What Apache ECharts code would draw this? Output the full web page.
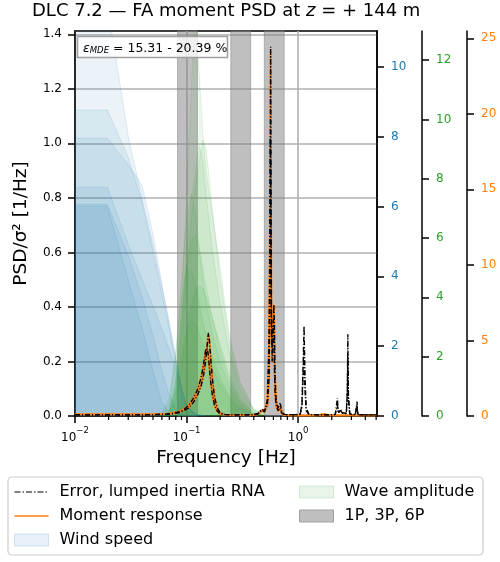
<!DOCTYPE html>
<html>
<head>
<meta charset="utf-8">
<script src="https://cdn.jsdelivr.net/npm/echarts@6/dist/echarts.min.js"></script>
<style>
  html, body { margin: 0; padding: 0; background: #fff; }
  #chart { width: 500px; height: 562px; }
</style>
</head>
<body>
<div id="chart"></div>
<script>
// frequency axis ticks
const X_TICKS = [0.01, 0.1, 1];
const X_MINOR = [0.02, 0.03, 0.04, 0.05, 0.06, 0.07, 0.08, 0.09,
                 0.2, 0.3, 0.4, 0.5, 0.6, 0.7, 0.8, 0.9, 2, 3, 4, 5];
const Y_TICKS = [0, 0.2, 0.4, 0.6, 0.8, 1.0, 1.2, 1.4];
const WIND_TICKS = [0, 2, 4, 6, 8, 10];
const WAVE_TICKS = [0, 2, 4, 6, 8, 10, 12];
const MOM_TICKS = [0, 5, 10, 15, 20, 25];

// 1P, 3P, 6P bands [Hz]
const BANDS = [[0.083, 0.125], [0.249, 0.375], [0.497, 0.75]];

// wind speed spectra (blue axis)
const WIND_F = [0.01, 0.0195, 0.03, 0.04, 0.05, 0.06, 0.07, 0.08, 0.09, 0.1, 0.12, 0.15];
const WIND_1 = [12.0, 11.8, 8.0, 6.2, 4.9, 3.7, 2.7, 1.7, 0.8, 0.3, 0.05, 0];
const WIND_2 = [8.76, 8.76, 7.4, 6.1, 4.7, 3.5, 2.5, 1.5, 0.8, 0.3, 0.05, 0];
const WIND_3 = [7.95, 7.95, 7.2, 6.6, 5.2, 3.8, 2.6, 1.6, 0.8, 0.3, 0.05, 0];
const WIND_4 = [6.55, 6.55, 4.9, 3.9, 3.15, 2.5, 1.9, 1.35, 0.6, 0.25, 0.03, 0];
const WIND_5 = [6.06, 6.06, 4.6, 3.4, 2.3, 1.3, 0.6, 0.2, 0.05, 0, 0, 0];
const WIND_6 = [6.0, 6.0, 3.9, 2.5, 1.3, 0.4, 0.1, 0, 0, 0, 0, 0];
const WIND = [WIND_1, WIND_2, WIND_3, WIND_4, WIND_5, WIND_6];

// wave amplitude spectra (green axis)
const WAVE_F = [0.06, 0.07, 0.08, 0.09, 0.10, 0.11, 0.12, 0.13, 0.14, 0.15, 0.17, 0.20, 0.24, 0.30, 0.40, 0.50];
const WAVE_1 = [0, 0.1, 1.0, 3.8, 7.5, 11.0, 14.0, 11.5, 9.5, 8.2, 6.8, 5.0, 2.8, 1.2, 0.2, 0.05];
const WAVE_2 = [0, 0.05, 0.6, 2.5, 4.8, 6.6, 7.8, 8.6, 9.3, 9.0, 7.0, 4.6, 2.6, 1.1, 0.25, 0.05];
const WAVE_3 = [0, 0.1, 0.9, 3.0, 5.5, 7.2, 8.3, 9.1, 8.6, 7.4, 5.6, 3.8, 2.2, 0.9, 0.2, 0.04];
const WAVE_4 = [0.05, 0.4, 2.0, 4.6, 6.6, 7.5, 6.8, 5.6, 4.6, 3.8, 2.8, 1.8, 1.0, 0.4, 0.08, 0.02];
const WAVE_5 = [0, 0.2, 1.2, 3.2, 5.0, 5.9, 6.1, 5.7, 5.0, 4.3, 3.3, 2.2, 1.2, 0.5, 0.1, 0.02];
const WAVE_6 = [0.1, 0.6, 2.2, 4.0, 5.0, 4.9, 4.4, 3.8, 3.2, 2.7, 2.0, 1.3, 0.7, 0.3, 0.06, 0.01];
const WAVE_7 = [0, 0.05, 0.5, 1.6, 2.8, 3.7, 4.2, 4.4, 4.3, 4.0, 3.3, 2.4, 1.4, 0.6, 0.12, 0.03];
const WAVE_8 = [0, 0.1, 0.8, 2.0, 2.9, 3.2, 3.1, 2.8, 2.4, 2.1, 1.6, 1.1, 0.6, 0.25, 0.05, 0.01];
const WAVE = [WAVE_1, WAVE_2, WAVE_3, WAVE_4, WAVE_5, WAVE_6, WAVE_7, WAVE_8];

// response PSD / sigma^2 (left axis)
const RESP_F = [0.010, 0.013, 0.017, 0.022, 0.028, 0.035, 0.045, 0.055, 0.065, 0.075,
                0.085, 0.095, 0.105, 0.115, 0.125, 0.135, 0.142, 0.148, 0.153, 0.157,
                0.160, 0.164, 0.170, 0.178, 0.188, 0.200, 0.220, 0.260, 0.320, 0.400,
                0.440, 0.470, 0.500, 0.530, 0.550, 0.558, 0.563, 0.567, 0.571, 0.576,
                0.585, 0.595, 0.605, 0.612, 0.620, 0.635, 0.660, 0.690, 0.710, 0.750,
                0.850, 0.950, 1.040, 1.080, 1.110, 1.130, 1.150, 1.180, 1.250, 1.450,
                1.700, 1.950, 2.150, 2.250, 2.280, 2.320, 2.400, 2.500, 2.600, 2.700,
                2.760, 2.790, 2.820, 2.900, 3.050, 3.250, 3.370, 3.400, 3.450, 3.700,
                4.200, 5.100];
const ERR_A = [0.005, 0.004, 0.005, 0.004, 0.005, 0.004, 0.005, 0.005, 0.006, 0.008,
               0.012, 0.020, 0.030, 0.050, 0.075, 0.110, 0.150, 0.200, 0.260, 0.305,
               0.280, 0.220, 0.140, 0.070, 0.030, 0.012, 0.006, 0.004, 0.004, 0.005,
               0.010, 0.025, 0.020, 0.040, 0.150, 0.500, 1.000, 1.354, 0.900, 0.400,
               0.200, 0.280, 0.410, 0.350, 0.150, 0.060, 0.030, 0.050, 0.020, 0.006,
               0.004, 0.005, 0.008, 0.040, 0.200, 0.330, 0.150, 0.030, 0.006, 0.004,
               0.005, 0.004, 0.006, 0.066, 0.020, 0.012, 0.025, 0.012, 0.015, 0.010,
               0.100, 0.300, 0.080, 0.010, 0.005, 0.006, 0.053, 0.020, 0.005, 0.004,
               0.004, 0.004];
const ERR_B = [0.004, 0.005, 0.004, 0.005, 0.004, 0.005, 0.004, 0.006, 0.007, 0.010,
               0.015, 0.025, 0.040, 0.065, 0.095, 0.140, 0.190, 0.240, 0.250, 0.220,
               0.180, 0.130, 0.080, 0.040, 0.018, 0.008, 0.005, 0.004, 0.005, 0.004,
               0.008, 0.020, 0.015, 0.060, 0.300, 0.700, 1.020, 0.900, 0.600, 0.300,
               0.250, 0.330, 0.300, 0.200, 0.090, 0.040, 0.020, 0.030, 0.012, 0.005,
               0.005, 0.004, 0.006, 0.030, 0.150, 0.250, 0.100, 0.020, 0.005, 0.005,
               0.004, 0.005, 0.005, 0.040, 0.015, 0.010, 0.020, 0.010, 0.012, 0.008,
               0.080, 0.220, 0.060, 0.008, 0.004, 0.005, 0.040, 0.015, 0.004, 0.005,
               0.004, 0.004];
const MOM_A = [0.007, 0.006, 0.007, 0.006, 0.007, 0.006, 0.007, 0.006, 0.007, 0.009,
               0.013, 0.021, 0.031, 0.052, 0.078, 0.112, 0.155, 0.205, 0.262, 0.300,
               0.278, 0.218, 0.138, 0.068, 0.029, 0.011, 0.005, 0.003, 0.003, 0.004,
               0.009, 0.022, 0.018, 0.038, 0.145, 0.490, 0.990, 1.340, 0.890, 0.395,
               0.195, 0.275, 0.405, 0.345, 0.145, 0.055, 0.025, 0.040, 0.015, 0.004,
               0.002, 0.002, 0.002, 0.002, 0.002, 0.002, 0.002, 0.002, 0.002, 0.002,
               0.008, 0.002, 0.002, 0.002, 0.002, 0.002, 0.002, 0.002, 0.002, 0.002,
               0.002, 0.002, 0.002, 0.002, 0.002, 0.002, 0.002, 0.002, 0.002, 0.002,
               0.002, 0.002];
const MOM_B = [0.006, 0.007, 0.006, 0.007, 0.006, 0.007, 0.006, 0.008, 0.008, 0.011,
               0.016, 0.026, 0.041, 0.066, 0.096, 0.142, 0.192, 0.238, 0.248, 0.218,
               0.178, 0.128, 0.078, 0.038, 0.017, 0.007, 0.004, 0.003, 0.004, 0.003,
               0.007, 0.018, 0.014, 0.058, 0.295, 0.690, 1.010, 0.890, 0.590, 0.295,
               0.245, 0.325, 0.295, 0.195, 0.085, 0.035, 0.018, 0.026, 0.010, 0.004,
               0.002, 0.002, 0.002, 0.002, 0.002, 0.002, 0.002, 0.002, 0.002, 0.002,
               0.002, 0.002, 0.002, 0.002, 0.002, 0.002, 0.002, 0.002, 0.002, 0.002,
               0.002, 0.002, 0.002, 0.002, 0.002, 0.002, 0.002, 0.002, 0.002, 0.002,
               0.002, 0.002];

const FONT = 'DejaVu Sans';
const BLUE = '#1f77b4', GREEN = '#2ca02c', ORANGE = '#ff7f0e';

const chart = echarts.init(document.getElementById('chart'), null, { renderer: 'canvas' });

function pairs(xs, ys) {
  return xs.map((x, i) => [x, ys[i]]);
}

function fillSeries(name, yIdx, xs, ys, rgb, alpha) {
  return {
    name: name, type: 'line', xAxisIndex: 0, yAxisIndex: yIdx,
    data: pairs(xs, ys), symbol: 'none', silent: true, z: 2,
    lineStyle: { color: 'rgba(' + rgb + ',' + (alpha * 1.4) + ')', width: 1 },
    itemStyle: { color: 'rgba(' + rgb + ',' + alpha + ')' },
    areaStyle: { color: 'rgba(' + rgb + ',' + alpha + ')', opacity: 1 }
  };
}

function rightAxis(max, ticks, color, offset) {
  return {
    type: 'value', position: 'right', offset: offset, min: 0, max: max,
    axisLine: { show: true, onZero: false, lineStyle: { color: '#000', width: 1.5 } },
    axisTick: { show: true, length: 7, customValues: ticks, lineStyle: { color: '#000', width: 1.5 } },
    axisLabel: { color: color, fontFamily: FONT, fontSize: 12, margin: 14, customValues: ticks },
    splitLine: { show: false }
  };
}

const series = [];

// 1P / 3P / 6P bands
series.push({
  name: '1P, 3P, 6P', type: 'line', xAxisIndex: 0, yAxisIndex: 0, data: [],
  markArea: {
    silent: true,
    itemStyle: { color: 'rgba(128,128,128,0.5)', borderColor: 'rgba(128,128,128,0.5)', borderWidth: 1 },
    data: BANDS.map(b => [{ xAxis: b[0] }, { xAxis: b[1] }])
  }
});

WIND.forEach(w => series.push(fillSeries('Wind speed', 1, WIND_F, w, '31,119,180', 0.09)));
WAVE.forEach(w => series.push(fillSeries('Wave amplitude', 2, WAVE_F, w, '44,160,44', 0.085)));

[MOM_A, MOM_B].forEach(m => series.push({
  name: 'Moment response', type: 'line', xAxisIndex: 0, yAxisIndex: 0,
  data: pairs(RESP_F, m), symbol: 'none', silent: true, z: 3,
  lineStyle: { color: ORANGE, width: 1.8 }, itemStyle: { color: ORANGE }
}));

[ERR_A, ERR_B].forEach(e => series.push({
  name: 'Error, lumped inertia RNA', type: 'line', xAxisIndex: 0, yAxisIndex: 0,
  data: pairs(RESP_F, e), symbol: 'none', silent: true, z: 4,
  lineStyle: { color: '#000', width: 1.4, type: [5, 2, 1, 2] }, itemStyle: { color: '#000' }
}));

// minor log ticks on the frequency axis
series.push({
  type: 'custom', xAxisIndex: 0, yAxisIndex: 0, silent: true, clip: false, z: 5,
  data: X_MINOR.map(f => [f, 0]),
  renderItem: function (params, api) {
    const p = api.coord([api.value(0), 0]);
    return {
      type: 'line',
      shape: { x1: p[0], y1: p[1], x2: p[0], y2: p[1] + 4 },
      style: { stroke: '#000', lineWidth: 1.2 }
    };
  }
});

const legendText = { fontFamily: FONT, fontSize: 16, color: '#000', lineHeight: 16, padding: [0, 0, 0, 6] };

const option = {
  backgroundColor: '#fff',
  animation: false,
  title: {
    text: 'DLC 7.2 — FA moment PSD at {i|z} = + 144 m',
    left: 32, top: 2, padding: 0,
    textStyle: {
      fontFamily: FONT, fontSize: 18, fontWeight: 'normal', color: '#000',
      rich: { i: { fontFamily: FONT, fontSize: 18, fontStyle: 'italic', color: '#000' } }
    }
  },
  grid: { left: 75, right: 123, top: 31, bottom: 146, show: true, borderColor: '#000', borderWidth: 1.5 },
  xAxis: {
    type: 'log', logBase: 10, min: 0.01, max: 5.09,
    name: 'Frequency [Hz]', nameLocation: 'middle', nameGap: 31,
    nameTextStyle: { fontFamily: FONT, fontSize: 18.5, color: '#000' },
    axisLine: { show: true, onZero: false, lineStyle: { color: '#000', width: 1.5 } },
    axisTick: { show: true, length: 7, customValues: X_TICKS, lineStyle: { color: '#000', width: 1.5 } },
    axisLabel: {
      margin: 10, customValues: X_TICKS,
      formatter: v => '{b|10}{s|' + String(Math.round(Math.log10(v))).replace('-', '−') + '}',
      rich: {
        b: { fontFamily: FONT, fontSize: 12, color: '#000', lineHeight: 18, verticalAlign: 'bottom' },
        s: { fontFamily: FONT, fontSize: 8.5, color: '#000', lineHeight: 18, verticalAlign: 'top' }
      }
    },
    splitLine: { show: true, lineStyle: { color: '#b0b0b0', width: 1.6 } }
  },
  yAxis: [
    {
      type: 'value', position: 'left', min: 0, max: 1.412, interval: 0.2,
      name: 'PSD/σ² [1/Hz]', nameLocation: 'middle', nameGap: 44,
      nameTextStyle: { fontFamily: FONT, fontSize: 18.5, color: '#000' },
      axisLine: { show: true, onZero: false, lineStyle: { color: '#000', width: 1.5 } },
      axisTick: { show: true, length: 7, customValues: Y_TICKS, lineStyle: { color: '#000', width: 1.5 } },
      axisLabel: { fontFamily: FONT, fontSize: 12, color: '#000', margin: 13, customValues: Y_TICKS,
                   formatter: v => v.toFixed(1) },
      splitLine: { show: true, lineStyle: { color: '#b0b0b0', width: 1.6 } }
    },
    rightAxis(11.02, WIND_TICKS, BLUE, 0),
    rightAxis(12.98, WAVE_TICKS, GREEN, 45),
    rightAxis(25.48, MOM_TICKS, ORANGE, 90)
  ],
  legend: [
    {
      orient: 'vertical', left: 14, top: 484, padding: 0, itemGap: 8,
      itemWidth: 34, itemHeight: 12, selectedMode: false, textStyle: legendText,
      data: [
        { name: 'Error, lumped inertia RNA',
          icon: 'path://M0,0 M0,5.4h6v1.2h-6z M8,5.4h1.5v1.2h-1.5z M11.5,5.4h6v1.2h-6z M19.5,5.4h1.5v1.2h-1.5z M23,5.4h6v1.2h-6z M31,5.4h1.5v1.2h-1.5z M34,12',
          itemStyle: { color: '#000' } },
        { name: 'Moment response',
          icon: 'path://M0,0 M0,5.2h34v1.6h-34z M34,12',
          itemStyle: { color: ORANGE } },
        { name: 'Wind speed', icon: 'rect',
          itemStyle: { color: 'rgba(31,119,180,0.1)', borderColor: 'rgba(31,119,180,0.18)', borderWidth: 1 } }
      ]
    },
    {
      orient: 'vertical', left: 299, top: 484, padding: 0, itemGap: 8,
      itemWidth: 34, itemHeight: 12, selectedMode: false, textStyle: legendText,
      data: [
        { name: 'Wave amplitude', icon: 'rect',
          itemStyle: { color: 'rgba(44,160,44,0.1)', borderColor: 'rgba(44,160,44,0.18)', borderWidth: 1 } },
        { name: '1P, 3P, 6P', icon: 'rect',
          itemStyle: { color: '#bfbfbf', borderColor: '#a0a0a0', borderWidth: 1 } }
      ]
    }
  ],
  graphic: [
    {
      type: 'rect', z: 0,
      shape: { x: 8, y: 477, width: 475, height: 78, r: 4 },
      style: { fill: '#fff', stroke: '#cccccc', lineWidth: 1.2 }
    },
    {
      type: 'rect', z: 100,
      shape: { x: 77.5, y: 36.5, width: 150, height: 21 },
      style: { fill: 'rgba(255,255,255,0.8)', stroke: '#a0a0a0', lineWidth: 1.6 }
    },
    {
      type: 'text', z: 101, x: 83, y: 47,
      style: {
        text: '{e|ε}{s|MDE}{t| = 15.31 - 20.39 %}',
        verticalAlign: 'middle',
        rich: {
          e: { fontFamily: FONT, fontSize: 12.5, fontStyle: 'italic', fill: '#000', lineHeight: 16, verticalAlign: 'bottom' },
          s: { fontFamily: FONT, fontSize: 8.5, fontStyle: 'italic', fill: '#000', lineHeight: 13, verticalAlign: 'bottom' },
          t: { fontFamily: FONT, fontSize: 12.5, fill: '#000', lineHeight: 16, verticalAlign: 'bottom' }
        }
      }
    }
  ],
  series: series
};

chart.setOption(option);
</script>
</body>
</html>
